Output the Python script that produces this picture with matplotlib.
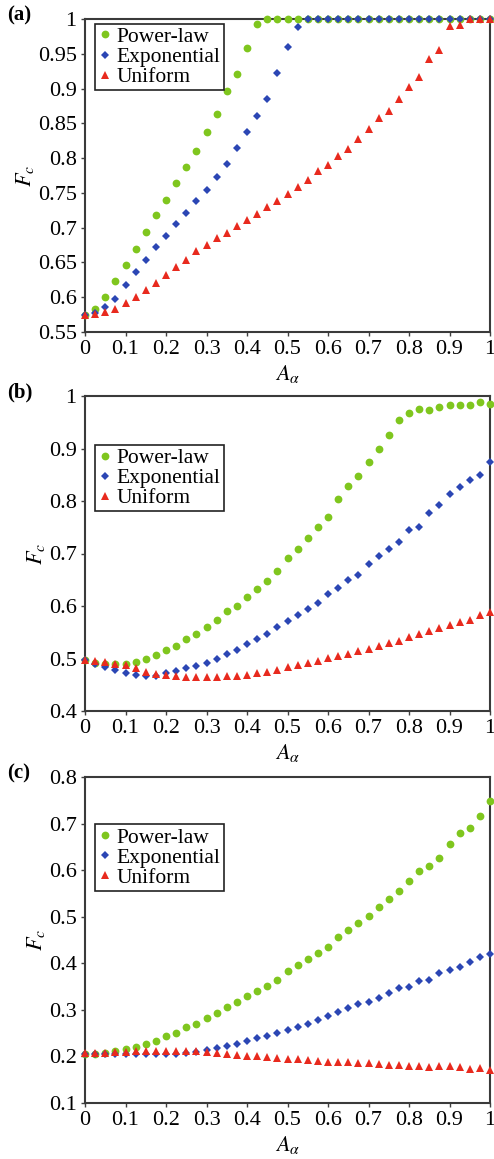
import matplotlib
matplotlib.use("Agg")
import matplotlib.pyplot as plt
import numpy as np

plt.rcParams['font.family'] = ['Liberation Serif', 'DejaVu Serif']
plt.rcParams['mathtext.fontset'] = 'stix'

x = np.linspace(0, 1, 41)

# panel (a)
power_a = [0.575, 0.583, 0.601, 0.623, 0.646, 0.669, 0.694, 0.718, 0.740, 0.764,
           0.787, 0.810, 0.837, 0.863, 0.896, 0.921, 0.959, 0.993, 1.0, 1.0,
           1.0, 1.0, 1.0, 1.0, 1.0, 1.0, 1.0, 1.0, 1.0, 1.0,
           1.0, 1.0, 1.0, 1.0, 1.0, 1.0, 1.0, 1.0, 1.0, 1.0, 1.0]
expo_a = [0.575, 0.578, 0.586, 0.598, 0.617, 0.636, 0.654, 0.672, 0.688, 0.705,
          0.721, 0.738, 0.754, 0.773, 0.792, 0.814, 0.837, 0.860, 0.885, 0.922,
          0.960, 0.989, 1.0, 1.0, 1.0, 1.0, 1.0, 1.0, 1.0, 1.0,
          1.0, 1.0, 1.0, 1.0, 1.0, 1.0, 1.0, 1.0, 1.0, 1.0, 1.0]
unif_a = [0.574, 0.576, 0.579, 0.583, 0.592, 0.600, 0.610, 0.621, 0.632, 0.643,
          0.654, 0.666, 0.675, 0.685, 0.693, 0.702, 0.711, 0.719, 0.729, 0.738,
          0.748, 0.759, 0.768, 0.782, 0.790, 0.803, 0.813, 0.827, 0.842, 0.857,
          0.868, 0.885, 0.902, 0.917, 0.943, 0.956, 0.990, 0.992, 1.0, 1.0, 1.0]

# panel (b)
power_b = [0.497, 0.492, 0.489, 0.489, 0.489, 0.494, 0.500, 0.507, 0.516, 0.524,
           0.537, 0.546, 0.560, 0.574, 0.590, 0.600, 0.617, 0.632, 0.648, 0.667,
           0.691, 0.709, 0.729, 0.750, 0.769, 0.803, 0.829, 0.847, 0.874, 0.899,
           0.925, 0.954, 0.968, 0.975, 0.973, 0.980, 0.983, 0.983, 0.983, 0.988, 0.984]
expo_b = [0.497, 0.490, 0.484, 0.478, 0.473, 0.469, 0.467, 0.467, 0.473, 0.476,
          0.481, 0.485, 0.492, 0.500, 0.508, 0.517, 0.527, 0.538, 0.546, 0.560,
          0.572, 0.583, 0.595, 0.605, 0.623, 0.635, 0.650, 0.660, 0.680, 0.695,
          0.709, 0.722, 0.744, 0.751, 0.777, 0.793, 0.814, 0.826, 0.840, 0.850, 0.874]
unif_b = [0.498, 0.495, 0.494, 0.490, 0.487, 0.481, 0.475, 0.471, 0.469, 0.466,
          0.465, 0.464, 0.464, 0.464, 0.466, 0.467, 0.469, 0.472, 0.474, 0.479,
          0.483, 0.487, 0.492, 0.495, 0.501, 0.504, 0.509, 0.514, 0.519, 0.524,
          0.529, 0.534, 0.541, 0.546, 0.553, 0.558, 0.564, 0.570, 0.574, 0.582, 0.588]

# panel (c)
power_c = [0.206, 0.206, 0.207, 0.211, 0.216, 0.221, 0.227, 0.234, 0.243, 0.251,
           0.263, 0.270, 0.282, 0.294, 0.306, 0.316, 0.329, 0.341, 0.352, 0.364,
           0.383, 0.396, 0.409, 0.423, 0.436, 0.456, 0.471, 0.486, 0.501, 0.521,
           0.539, 0.556, 0.577, 0.599, 0.609, 0.626, 0.656, 0.680, 0.691, 0.716, 0.749]
expo_c = [0.205, 0.205, 0.205, 0.205, 0.205, 0.205, 0.205, 0.205, 0.206, 0.206,
          0.207, 0.209, 0.214, 0.219, 0.223, 0.227, 0.234, 0.239, 0.244, 0.250,
          0.256, 0.264, 0.270, 0.279, 0.286, 0.295, 0.304, 0.312, 0.316, 0.325,
          0.337, 0.346, 0.350, 0.363, 0.364, 0.380, 0.386, 0.391, 0.402, 0.413, 0.421]
unif_c = [0.207, 0.207, 0.208, 0.209, 0.210, 0.211, 0.211, 0.212, 0.212, 0.212,
          0.212, 0.211, 0.210, 0.207, 0.205, 0.203, 0.201, 0.200, 0.198, 0.196,
          0.195, 0.194, 0.192, 0.191, 0.189, 0.188, 0.187, 0.186, 0.186, 0.183,
          0.182, 0.181, 0.179, 0.179, 0.178, 0.179, 0.179, 0.177, 0.174, 0.176, 0.171]

labels = ['Power-law', 'Exponential', 'Uniform']
green = '#7fc61e'
blue = '#2b46b4'
red = '#e82a1e'

panels = [
    ('(a)', power_a, expo_a, unif_a, (0.55, 1.0), np.arange(0.55, 1.001, 0.05), ['0.55', '0.6', '0.65', '0.7', '0.75', '0.8', '0.85', '0.9', '0.95', '1'], 0.985),
    ('(b)', power_b, expo_b, unif_b, (0.4, 1.0), np.arange(0.4, 1.001, 0.1), ['0.4', '0.5', '0.6', '0.7', '0.8', '0.9', '1'], 0.845),
    ('(c)', power_c, expo_c, unif_c, (0.1, 0.8), np.arange(0.1, 0.801, 0.1), ['0.1', '0.2', '0.3', '0.4', '0.5', '0.6', '0.7', '0.8'], 0.855),
]
# axes boxes in pixels: top, bottom
boxes = [(19, 332), (396, 711), (777, 1103)]

W, H = 494, 1159
fig = plt.figure(figsize=(W / 100, H / 100), dpi=100)

for (tag, p, e, u, ylim, yt, ytl, legy), (top, bot) in zip(panels, boxes):
    ax = fig.add_axes([85 / W, 1 - bot / H, (490 - 85) / W, (bot - top) / H])
    ax.plot(x, p, 'o', color=green, ms=5.6, mew=0, label=labels[0], clip_on=False, zorder=3)
    ax.plot(x, e, 'D', color=blue, ms=4.5, mew=0, label=labels[1], clip_on=False, zorder=4)
    ax.plot(x, u, '^', color=red, ms=6.3, mew=0, label=labels[2], clip_on=False, zorder=5)
    ax.set_xlim(0, 1)
    ax.set_ylim(*ylim)
    ax.set_xticks(np.arange(0, 1.001, 0.1))
    ax.set_xticklabels(['0', '0.1', '0.2', '0.3', '0.4', '0.5', '0.6', '0.7', '0.8', '0.9', '1'])
    ax.set_yticks(yt)
    ax.set_yticklabels(ytl)
    ax.tick_params(labelsize=16, length=3, width=1, color='#404040', pad=3)
    for s in ax.spines.values():
        s.set_color('#3a3a3a')
        s.set_linewidth(1.5)
    ax.set_xlabel(r'$A_\alpha$', fontsize=16, labelpad=3)
    ax.set_ylabel(r'$F_c$', fontsize=16, labelpad=1)
    leg = ax.legend(loc='upper left', bbox_to_anchor=(0.025, legy), fontsize=15.5,
                    handlelength=0.6, handletextpad=0.25, borderpad=0.15,
                    labelspacing=0.0, borderaxespad=0, fancybox=False,
                    framealpha=1, edgecolor='#222222')
    leg.get_frame().set_linewidth(1.2)
    fig.text(7 / W, 1 - (top - 4) / H, tag, fontsize=15, fontweight='bold', va='center', ha='left')

fig.savefig('out.png', dpi=100)
